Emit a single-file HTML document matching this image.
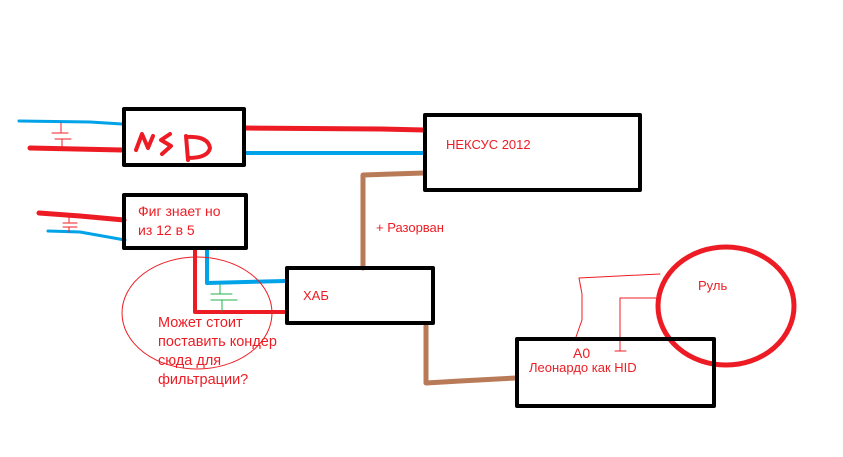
<!DOCTYPE html>
<html><head><meta charset="utf-8"><style>
html,body{margin:0;padding:0;background:#fff;width:843px;height:457px;overflow:hidden}
svg text{font-family:"Liberation Sans","DejaVu Sans",sans-serif;fill:#ed1c24}
</style></head><body>
<svg width="843" height="457" viewBox="0 0 843 457" xmlns="http://www.w3.org/2000/svg">
<g fill="none" stroke-linecap="round" stroke-linejoin="round">
<polyline points="19,121 90,122 122,124" stroke="#00a2e8" stroke-width="3"/>
<polyline points="30,148 122,150" stroke="#ed1c24" stroke-width="5"/>
<line x1="61" y1="123" x2="61" y2="132" stroke="#ed1c24" stroke-width="1"/>
<line x1="52" y1="133" x2="68" y2="133" stroke="#ed1c24" stroke-width="1"/>
<line x1="55" y1="139" x2="71" y2="139" stroke="#ed1c24" stroke-width="1"/>
<line x1="62" y1="139" x2="62" y2="148" stroke="#ed1c24" stroke-width="1"/>
<polyline points="39,213 80,216 124,220" stroke="#ed1c24" stroke-width="5"/>
<polyline points="48,231 80,232 125,240" stroke="#00a2e8" stroke-width="3"/>
<line x1="69" y1="216" x2="69" y2="222" stroke="#ed1c24" stroke-width="1"/>
<line x1="63" y1="223" x2="77" y2="223" stroke="#ed1c24" stroke-width="1"/>
<line x1="63" y1="227" x2="77" y2="227" stroke="#ed1c24" stroke-width="1"/>
<line x1="69" y1="227" x2="69" y2="232" stroke="#ed1c24" stroke-width="1"/>
<polyline points="245,128 380,129 424,130" stroke="#ed1c24" stroke-width="5"/>
<line x1="245" y1="153" x2="425" y2="153" stroke="#00a2e8" stroke-width="4"/>
<polyline points="195,250 195,312 285,312" stroke="#ed1c24" stroke-width="4"/>
<polyline points="207,250 207,283 285,281" stroke="#00a2e8" stroke-width="4"/>
<line x1="220" y1="284" x2="220" y2="294" stroke="#22b14c" stroke-width="1"/>
<line x1="211" y1="294" x2="232" y2="294" stroke="#22b14c" stroke-width="1"/>
<line x1="211" y1="300" x2="237" y2="300" stroke="#22b14c" stroke-width="1"/>
<line x1="222" y1="300" x2="222" y2="311" stroke="#22b14c" stroke-width="1"/>
<polyline points="363,268 363,175 424,173" stroke="#b97a57" stroke-width="5"/>
<polyline points="426,326 426,383 460,381 516,378" stroke="#b97a57" stroke-width="5"/>
<ellipse cx="197" cy="313" rx="75" ry="56" stroke="#ed1c24" stroke-width="1"/>
<polyline points="576,337 582,320 582,294 579,278 660,274" stroke="#ed1c24" stroke-width="1"/>
<polyline points="620,340 620,298 657,298" stroke="#ed1c24" stroke-width="1"/>
<line x1="615" y1="351" x2="626" y2="351" stroke="#ed1c24" stroke-width="1"/>
<line x1="620" y1="340" x2="620" y2="351" stroke="#ed1c24" stroke-width="1"/>
<ellipse cx="726" cy="306" rx="68" ry="59" stroke="#ed1c24" stroke-width="5"/>
<rect x="124" y="109" width="120" height="56" stroke="#000" stroke-width="4"/>
<rect x="124" y="195" width="122" height="53" stroke="#000" stroke-width="4"/>
<rect x="425" y="115" width="215" height="75" stroke="#000" stroke-width="4"/>
<rect x="287" y="268" width="146" height="55" stroke="#000" stroke-width="4"/>
<rect x="517" y="339" width="197" height="67" stroke="#000" stroke-width="4"/>
<path d="M136,150 L142,134 L148,148 L153,136" stroke="#ed1c24" stroke-width="4"/>
<path d="M170,134 L161,140 L171,146 L162,154" stroke="#ed1c24" stroke-width="4"/>
<path d="M186,136 L188,160 M187,137 Q208,136 210,148 Q208,158 188,158" stroke="#ed1c24" stroke-width="4"/>
</g>
<text x="138" y="216" font-size="14">Фиг знает но</text>
<text x="138" y="235" font-size="14">из 12 в 5</text>
<text x="446" y="149" font-size="13">НЕКСУС 2012</text>
<text x="376" y="232" font-size="13">+ Разорван</text>
<text x="303" y="300" font-size="13">ХАБ</text>
<text x="158" y="327" font-size="14.5">Может стоит</text>
<text x="158" y="346" font-size="14.5">поставить кондер</text>
<text x="158" y="365" font-size="14.5">сюда для</text>
<text x="158" y="384" font-size="14.5">фильтрации?</text>
<text x="573" y="358" font-size="14">A0</text>
<text x="529" y="372" font-size="13">Леонардо как HID</text>
<text x="698" y="290" font-size="13">Руль</text>
</svg>
</body></html>
